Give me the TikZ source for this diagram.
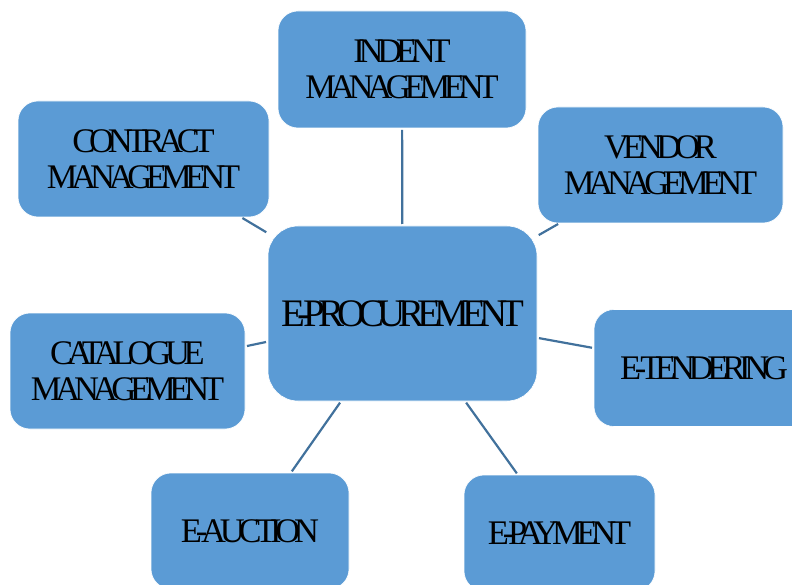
\documentclass[tikz,border=0pt]{standalone}
\usepackage{fontspec}
\setmainfont{Liberation Serif}
\newfontfamily\tightserif[LetterSpace=-18]{Liberation Serif}
\definecolor{boxblue}{RGB}{91,155,213}
\definecolor{linkblue}{RGB}{65,113,156}
\begin{document}
\begin{tikzpicture}[x=1pt,y=-1pt,
  block/.style={rectangle, rounded corners=20pt, fill=boxblue, draw=white, line width=0.6pt,
    inner sep=0pt, outer sep=0pt, align=center, text=black,
    font=\tightserif\fontsize{34.5}{36}\selectfont},
  hub/.style={block, rounded corners=30pt, font=\tightserif\fontsize{39}{42}\selectfont},
  link/.style={draw=linkblue, line width=2.2pt, shorten <=2pt, shorten >=2pt}]
\useasboundingbox (0,0) rectangle (792,585);
\clip (0,0) rectangle (792,585);

% hub and surrounding modules
\node[hub, minimum width=269pt, minimum height=175pt] (proc) at (402.5,313.5) {E-PROCUREMENT};
\node[block, minimum width=248pt, minimum height=117pt] (indent) at (402,69.5) {INDENT\\MANAGEMENT};
\node[block, minimum width=251pt, minimum height=116pt] (contract) at (143.5,159) {CONTRACT\\MANAGEMENT};
\node[block, minimum width=245pt, minimum height=116pt] (vendor) at (660.5,165) {VENDOR\\MANAGEMENT};
\node[block, minimum width=235pt, minimum height=116pt] (catalogue) at (127.5,371) {CATALOGUE\\MANAGEMENT};
\node[block, minimum width=220pt, minimum height=117pt] (tender) at (704,368) {E-TENDERING};
\node[block, minimum width=198pt, minimum height=116pt] (auction) at (250,531) {E-AUCTION};
\node[block, minimum width=191pt, minimum height=116pt] (payment) at (559.5,533) {E-PAYMENT};

% spokes
\draw[link] (indent) -- (proc);
\draw[link] (contract) -- (proc);
\draw[link] (vendor) -- (proc);
\draw[link] (catalogue) -- (proc);
\draw[link] (tender) -- (proc);
\draw[link] (auction) -- (proc);
\draw[link] (payment) -- (proc);
\end{tikzpicture}
\end{document}
